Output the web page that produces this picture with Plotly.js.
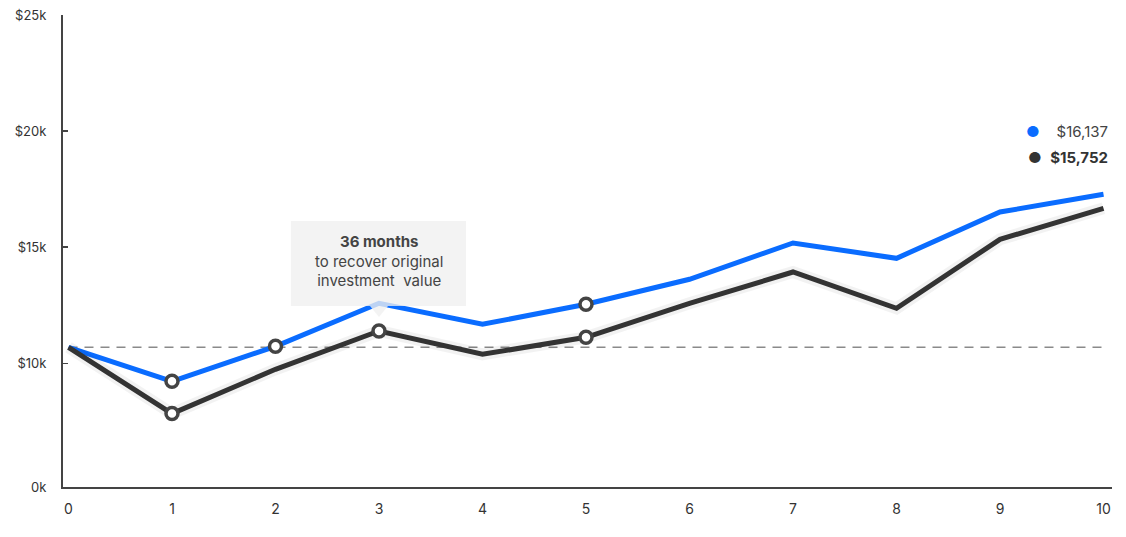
<!DOCTYPE html>
<html>
<head>
<meta charset="utf-8">
<script src="https://cdn.plot.ly/plotly-3.0.1.min.js"></script>
<style>html,body{margin:0;padding:0;background:#fff;}#chart{width:1126px;height:537px;}</style>
</head>
<body>
<div id="chart"></div>
<script>
// ---- data ----
const years = [0, 1, 2, 3, 4, 5, 6, 7, 8, 9, 10];
const blueValues  = [10690, 9225, 10732, 12584, 11680, 12541, 13618, 15181, 14522, 16516, 17278];
const blackValues = [10690, 7834, 9742, 11391, 10388, 11120, 12584, 13932, 12369, 15340, 16675];
const blueMarkerYears  = [1, 2, 5];
const blackMarkerYears = [1, 3, 5];
const baselineValue = 10690;
const yTickVals = [4673, 10000, 15000, 20000, 25000];
const yTickText = ['0k', '$10k', '$15k', '$20k', '$25k'];
const xTickVals = [0, 1, 2, 3, 4, 5, 6, 7, 8, 9, 10];
const legendLabels = ['$16,137', '$15,752'];
const calloutYear = 3;
const calloutLines = ['<b>36 months</b>', 'to recover original', 'investment  value'];

const BLUE = '#0a6cff';
const DARK = '#333333';

const pick = (arr, ks) => ks.map(k => arr[years.indexOf(k)]);

const traces = [
  {x: years, y: blueValues, mode: 'lines', line: {color: BLUE, width: 5}, hoverinfo: 'skip'},
  {x: years, y: blackValues, mode: 'lines', line: {color: 'rgba(0,0,0,0.05)', width: 12}, hoverinfo: 'skip'},
  {x: years, y: blackValues, mode: 'lines', line: {color: DARK, width: 5}, hoverinfo: 'skip'},
  {x: blueMarkerYears, y: pick(blueValues, blueMarkerYears), mode: 'markers',
   marker: {color: '#ffffff', size: 12, line: {color: '#444444', width: 3.5}}, hoverinfo: 'skip'},
  {x: blackMarkerYears, y: pick(blackValues, blackMarkerYears), mode: 'markers',
   marker: {color: '#ffffff', size: 12, line: {color: '#444444', width: 3.5}}, hoverinfo: 'skip'}
];

const font = "Inter, 'Liberation Sans', Arial, sans-serif";

const layout = {
  width: 1126, height: 537,
  margin: {l: 63, r: 14, t: 15, b: 50},
  paper_bgcolor: '#ffffff', plot_bgcolor: '#ffffff',
  showlegend: false,
  font: {family: font, color: '#333333', size: 13},
  xaxis: {
    range: [-0.053, 10.082], tickvals: xTickVals, ticktext: xTickVals.map(String),
    showgrid: false, zeroline: false, showline: true, linecolor: '#444444', linewidth: 2,
    ticks: '', ticklabelstandoff: 8, tickfont: {size: 14, color: '#333333', family: font},
    fixedrange: true
  },
  yaxis: {
    range: [4673, 25000], tickvals: yTickVals, ticktext: yTickText,
    showgrid: false, zeroline: false, showline: true, linecolor: '#444444', linewidth: 2,
    ticks: 'inside', ticklen: 5, tickwidth: 1.5, tickcolor: '#444444',
    ticklabelstandoff: 12, tickfont: {size: 13, color: '#333333', family: font},
    fixedrange: true
  },
  shapes: [
    {type: 'line', xref: 'x', yref: 'y', x0: 0, x1: 10, y0: baselineValue, y1: baselineValue,
     line: {color: '#8a8a8a', width: 1.5, dash: '9px,7px'}, layer: 'below'},
    {type: 'rect', xref: 'x', yref: 'paper', xsizemode: 'pixel', ysizemode: 'pixel',
     xanchor: calloutYear, yanchor: 0,
     x0: -88, x1: 87, y0: 181, y1: 266,
     fillcolor: 'rgba(240,240,240,0.78)', line: {width: 0}, layer: 'above'},
    {type: 'path', xref: 'x', yref: 'paper', xsizemode: 'pixel', ysizemode: 'pixel',
     xanchor: calloutYear, yanchor: 0,
     path: 'M -9 181 L 0 170 L 9 181 Z',
     fillcolor: 'rgba(240,240,240,0.78)', line: {width: 0}, layer: 'above'}
  ],
  annotations: [
    {xref: 'x', yref: 'paper', x: calloutYear, y: 1, yshift: -(242 - 15) + 12,
     text: calloutLines.join('<br>'), showarrow: false, align: 'center',
     yanchor: 'top', font: {size: 15, color: '#444444', family: font}},
    {xref: 'paper', yref: 'paper', x: 1, y: 1, xshift: -2, yshift: -(131 - 15), xanchor: 'right', yanchor: 'middle',
     text: '<span style="color:' + BLUE + ';font-size:15px">●</span>    ' + legendLabels[0],
     showarrow: false, font: {size: 15, color: '#444444', family: font}},
    {xref: 'paper', yref: 'paper', x: 1, y: 1, xshift: -2, yshift: -(157 - 15), xanchor: 'right', yanchor: 'middle',
     text: '<span style="color:' + DARK + ';font-size:15px">●</span>  <b>' + legendLabels[1] + '</b>',
     showarrow: false, font: {size: 15, color: '#333333', family: font}}
  ]
};

Plotly.newPlot('chart', traces, layout, {staticPlot: true, displayModeBar: false});
</script>
</body>
</html>
